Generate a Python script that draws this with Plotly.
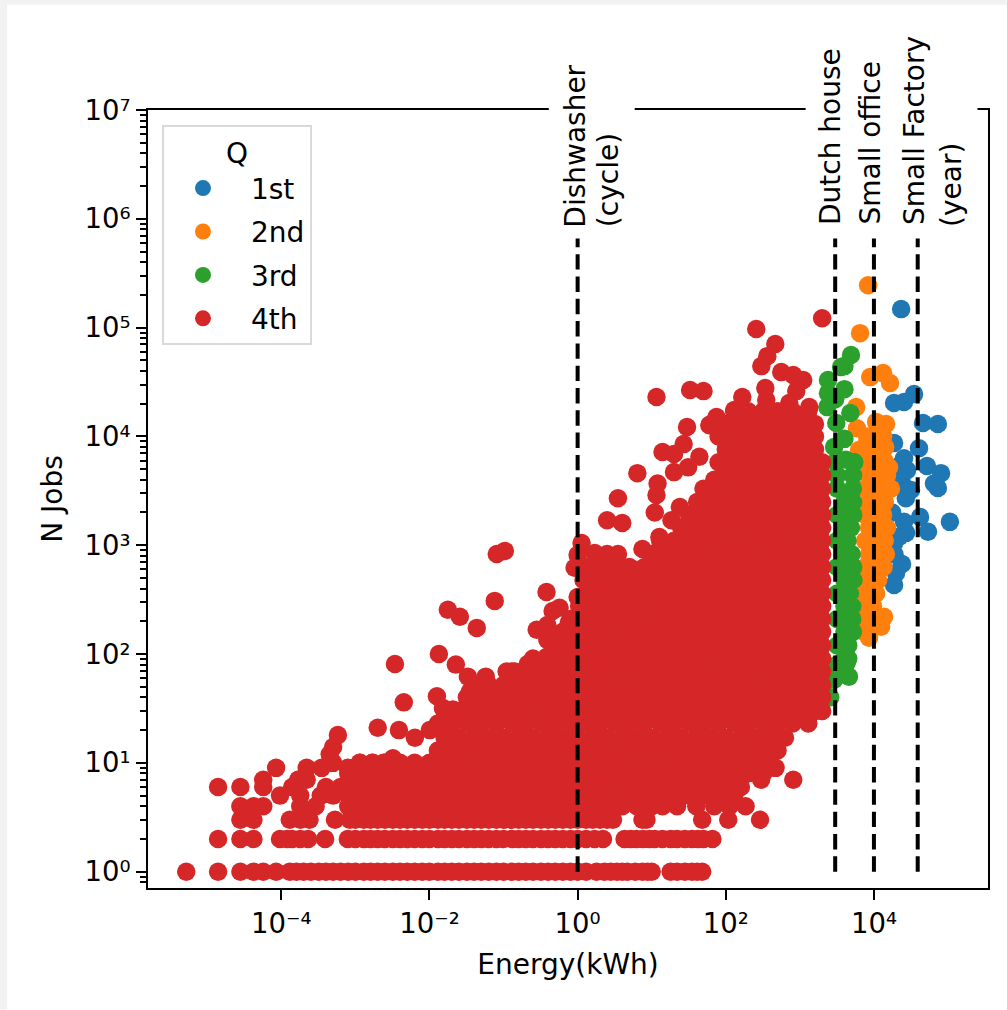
import plotly.graph_objects as go

# Values. The 4th-quartile cloud is saturated: single points
# cannot be read inside it, so its interior rows are estimates that fill the area.
jobs_levels_q4 = [1, 2, 3, 4, 5, 6, 7, 8, 9, 10, 13, 17, 23, 30, 40, 52, 69, 91, 120, 160, 210, 275, 360, 480,
                  630, 830, 1100, 1450, 1900, 2500, 3300, 4400, 5800, 7600, 10000, 13000, 17000]
energy_rows_q4 = [
    [5.2e-6,1.4e-5,2.8e-5,4.2e-5,5.7e-5,8.5e-5,1.3e-4,1.6e-4,2e-4,2.5e-4,3.2e-4,4e-4,5e-4,6.3e-4,8e-4,1e-3,1.3e-3,1.6e-3,2e-3,2.5e-3,3.2e-3,4e-3,5e-3,6.3e-3,8e-3,.01,.013,.016,.02,.025,.032,.04,.05,.063,.08,.1,.13,.16,.2,.25,.32,.4,.5,.63,.8,1,1.3,1.8,2.3,2.8,3.4,4,4.7,6,7.5,8.8,10,18,22,28,35,41,48],
    [1.4e-5,2.8e-5,4.2e-5,9.6e-5,1.2e-4,1.4e-4,1.8e-4,2.3e-4,3.9e-4,7.9e-4,1e-3,1.3e-3,1.6e-3,2e-3,2.5e-3,3.2e-3,4e-3,5e-3,6.3e-3,8e-3,.01,.013,.016,.02,.025,.032,.04,.05,.063,.08,.1,.13,.16,.2,.25,.32,.4,.5,.63,.8,1,1.3,1.7,2.2,4.3,5.2,6.2,7.6,9.3,11,14,18,22,28,35,42,50,66],
    [2.8e-5,4.2e-5,1.3e-4,1.8e-4,2.4e-4,5.3e-4,8.4e-4,1e-3,1.3e-3,1.6e-3,2e-3,2.5e-3,3.2e-3,4e-3,5e-3,6.3e-3,8e-3,.01,.013,.016,.02,.025,.032,.04,.05,.063,.08,.1,.13,.16,.2,.25,.32,.4,.5,.63,.8,1,1.3,1.6,2,2.5,3,7.5,8.5,48,108,290],
    [2.8e-5,4.2e-5,5.7e-5,1.8e-4,2.9e-4,8e-4,1e-3,1.6e-3,2.5e-3,4e-3,6.3e-3,.01,.016,.025,.04,.063,.1,.16,.25,.4,.63,1,1.6,2.5,4,6.3,10,14,22,40,70,112,185],
    [9.6e-5,1.8e-4,5e-4,8e-4,1.3e-3,2e-3,3.2e-3,5e-3,8e-3,.013,.02,.032,.05,.08,.13,.2,.32,.5,.8,1.3,2,3.2,5,8,13,20,32,50,80,130],
    [1.4e-5,2.8e-5,5.7e-5,1.4e-4,4e-4,6.3e-4,1e-3,1.6e-3,2.5e-3,4e-3,6.3e-3,.01,.016,.025,.04,.063,.1,.16,.25,.4,.63,1,1.6,2.5,4,6.3,10,16,25,40,63,100,160],
    [5.7e-5,1.7e-4,2.2e-4,300,815],
    [8e-4,1.3e-3,2e-3,3.2e-3,5e-3,8e-3,.013,.02,.032,.05,.08,.13,.2,.32,.5,.8,1.3,2,3.2,5,8,13,20,32,50,80,130,200,320],
    [8.5e-5,2.2e-4,3.5e-4,470],
    [5e-4,1.15e-3,1.7e-3,2.5e-3,4e-3,6.3e-3,.01,.016,.025,.04,.063,.1,.16,.25,.4,.63,1,1.6,2.5,4,6.3,10,16,25,40,63,100,160,250,400],
    [.013,.02,.032,.05,.08,.13,.2,.32,.5,.8,1.3,2,3.2,5,8,13,20,32,50,80,130,200,320,500],
    [.016,.025,.04,.063,.1,.16,.25,.4,.63,1,1.6,2.5,4,6.3,10,16,25,40,63,100,160,250,400,630],
    [.013,.02,.032,.05,.08,.13,.2,.32,.5,.8,1.3,2,3.2,5,8,13,20,32,50,80,130,200,320,500,800,1300],
    [.016,.025,.04,.063,.1,.16,.25,.4,.63,1,1.6,2.5,4,6.3,10,16,25,40,63,100,160,250,400,630,1000,1600,2000],
    [.032,.05,.08,.13,.2,.32,.5,.8,1.3,2,3.2,5,8,13,20,32,50,80,130,200,320,500,800,1300,2000],
    [.04,.063,.1,.16,.25,.4,.63,1,1.6,2.5,4,6.3,10,16,25,40,63,100,160,250,400,630,1000,1600,2000],
    [.13,.2,.32,.5,.8,1.3,2,3.2,5,8,13,20,32,50,80,130,200,320,500,800,1300,2000],
    [.25,.4,.63,1,1.6,2.5,4,6.3,10,16,25,40,63,100,160,250,400,630,1000,1600,2000],
    [.5,.8,1.3,2,3.2,5,8,13,20,32,50,80,130,200,320,500,800,1300,2000],
    [.63,1,1.6,2.5,4,6.3,10,16,25,40,63,100,160,250,400,630,1000,1600,2000],
    [.8,1.3,2,3.2,5,8,13,20,32,50,80,130,200,320,500,800,1300,2000],
    [1.05,1.6,2.5,4,6.3,10,16,25,40,63,100,160,250,400,630,1000,1600,2000],
    [1.3,2,3.2,5,8,13,20,32,50,80,130,200,320,500,800,1300,2000],
    [1.2,1.6,2.5,4,6.3,10,16,25,40,63,100,160,250,400,630,1000,1600,2000],
    [1.3,2,3.2,5,8,13,20,32,50,80,130,200,320,500,800,1300,2000],
    [2.5,10,16,25,40,63,100,160,250,400,630,1000,1600,2000],
    [13,20,32,50,80,130,200,320,500,800,1300,2000],
    [25,40,63,100,160,250,400,630,1000,1600,2000],
    [32,50,80,130,200,320,500,800,1300,2000],
    [63,100,160,250,400,630,1000,1600,2000],
    [50,80,130,200,320,500,800,1300,2000],
    [100,160,250,400,630,1000,1600,2000],
    [80,130,200,320,500,800,1300,2000],
    [100,160,250,400,630,1000,1600],
    [80,130,200,320,500,800,1300,1600],
    [63,100,160,250,400,630,1000,1600],
    [130,200,320,500,800,1300],
]

energy_q4_loose = [2000,258,466,364,302,561,815,1110,894,342,167,11.6,33,50,130,75,60,30,27,14,20,44,31,20,6.4,12,11.6,70,3.5,2.5,4,11,24,41,
                   7.5,3.5,2.5,1.7,1.13,1,.91,1.9,4.3,6.2,12.7,18.5,1340,720,352,.38,1,1.36,.46,.57,.28,.41,.39,.76,.081,.104,.076,.0177,.0257,.0435,
                   .0134,.00342,.0227,.033,.0575,.035,.0045,.0126,.0152,.0207,.11,.142,.212,.38,.39,.57,.002,.00387,.00635,.0101,.00321,
                   5.8e-4,5e-4,4.5e-4,1.15e-3,1.7e-3,2.4e-3,1.7e-4,3.4e-4,7.9e-4,810,800,690]
jobs_q4_loose = [122000,97000,70600,54700,44300,39000,36600,33000,26100,27800,23000,23000,26700,26100,17500,15100,12700,12200,8500,7200,6900,6500,5200,4700,4600,3700,2900,4000,2700,1700,1600,2000,2250,2500,
                 925,830,780,850,1050,815,620,570,570,590,1190,1700,18600,20300,21600,372,335,350,249,266,167,144,185,194,830,887,308,255,220,174,
                 100,81,80,62,62,45,36,41,32,31,69,69,81,94,135,127,21,20,17,20,11,
                 18,14,12,10,10,10,7,5,9,1350,1000,1100]

energy_q3 = [4900,4000,3600,2400,4000,2400,4800,2350,4000,3100,2900,5400,5200,4200,
             3200,5200,3000,5400,3200,5200,4000,5250,3200,5250,4000,4900,3200,4400,4000,5000,3200,5250,4000,5300,3200,4750,4000,5100,3200,5100,4000,5200,3200,4500,4000,4500,
             4600,3200,4300,2900,2570,3000]
jobs_q3 = [56000,44300,43400,33000,27200,25000,16400,18600,9500,13300,8000,5800,4400,6100,
           4400,4400,5800,5800,3300,3300,2500,2500,1900,1900,1450,1450,1100,1100,830,830,630,630,480,480,360,360,275,275,210,210,160,160,120,120,91,91,
           62,80,83,58,40,22000]

energy_q2 = [8350,6500,8900,13300,16500,5750,5900,10700,14600,8100,14200,7800,6300,10700,13300,11700,10000,13800,8600,
             7600,10000,8600,11700,16000,8600,13300,15000,7600,10000,13300,17000,8600,11700,14000,7600,10000,13300,8600,11700,15000,
             7600,10000,14000,8600,12000,14500,7600,10000,13500,8600,11400,7600,9700,10700,8000,9700,7600,9000,7400,8600,13700,12500,8600]
jobs_q2 = [245000,89000,35100,38200,31000,18600,11900,13600,13000,10000,8000,8350,7500,10000,10000,8000,6600,6000,6000,
           5800,5800,5200,5200,5200,4400,4400,4400,3300,3300,3300,3300,2500,2500,2500,1900,1900,1900,1450,1450,1450,
           1100,1100,1100,830,830,830,630,630,630,480,480,360,360,360,275,275,210,210,160,160,220,178,141]

energy_q1 = [23300,34800,25500,18700,46000,73000,40600,18700,25500,52000,80500,64700,73000,31700,24000,28000,42000,106000,53700,25500,27200,18700,24000,19900,18700,17600,
             23000,20000,27000,22000,19000]
jobs_q1 = [148000,24500,20700,20300,13300,13000,7800,8700,6300,5350,4600,3700,3360,3220,3700,4900,1820,1640,1330,1640,1300,1050,673,557,432,2000,
           5500,4400,2700,1200,820]

reference_energy = [1, 3000, 10000, 39000]
reference_top_jobs = 660000
reference_labels = ["Dishwasher", "(cycle)", "Dutch house", "Small office", "Small Factory", "(year)"]

quartile_names = ["\u00a01st", "\u00a02nd", "\u00a03rd", "\u00a04th"]
quartile_colors = ["#1f77b4", "#ff7f0e", "#2ca02c", "#d62728"]

x_tick_values = [1e-4, 1e-2, 1, 1e2, 1e4]
x_tick_labels = ["10\u207b\u2074", "10\u207b\u00b2", "10\u2070", "10\u00b2", "10\u2074"]
y_tick_values = [1, 10, 100, 1e3, 1e4, 1e5, 1e6, 1e7]
y_tick_labels = ["10\u2070", "10\u00b9", "10\u00b2", "10\u00b3", "10\u2074", "10\u2075", "10\u2076", "10\u2077"]
y_minor_values = [m * 10.0 ** e for e in range(-1, 7) for m in range(2, 10) if m * 10.0 ** e > 0.7 or m == 7]

energy_q4, jobs_q4 = [], []
for level, row in zip(jobs_levels_q4, energy_rows_q4):
    energy_q4 += row
    jobs_q4 += [level] * len(row)
energy_q4 += energy_q4_loose
jobs_q4 += jobs_q4_loose

FONT = "DejaVu Sans"
FS = 28
L, R, T, B = 148, 988.5, 110, 888.5
W, H = 1007, 1010
def px(x): return (x - L) / (R - L)
def py(y): return (B - y) / (B - T)

fig = go.Figure()
series = [(energy_q1, jobs_q1), (energy_q2, jobs_q2), (energy_q3, jobs_q3), (energy_q4, jobs_q4)]
for name, color, (ex, jy) in zip(quartile_names, quartile_colors, series):
    fig.add_trace(go.Scatter(x=ex, y=jy, mode="markers", name=name, legendgroup=name,
                             marker=dict(color=color, size=18.5, line=dict(width=0))))
for e in reference_energy:
    fig.add_trace(go.Scatter(x=[e, e], y=[1, reference_top_jobs], mode="lines", showlegend=False, hoverinfo="skip",
                             line=dict(color="black", width=4, dash="15.4px,6.9px")))

label_pos = [(576, 229.5), (609, 229.5), (831, 227), (871, 227), (915, 227), (952, 229.5)]
annotations = [dict(text=t, xref="paper", yref="paper", x=px(a), y=py(b), xanchor="center", yanchor="bottom",
                    textangle=-90, showarrow=False, font=dict(family=FONT, size=FS, color="black"))
               for t, (a, b) in zip(reference_labels, label_pos)]

def rect(x0, x1, y0, y1, c):
    return dict(type="rect", xref="paper", yref="paper", x0=px(x0), x1=px(x1), y0=py(y0), y1=py(y1),
                fillcolor=c, line=dict(width=0), layer="above")
shapes = [rect(549, 635, 100, 120, "white"), rect(806, 978, 100, 120, "white"),
          rect(0, W, 0, 4.7, "#f2f2f2"), rect(0, 7, 0, H, "#f2f2f2")]

axis_common = dict(type="log", showgrid=False, zeroline=False, showline=True, mirror=True, linecolor="black", linewidth=2,
                   ticks="outside", ticklen=10, tickwidth=2, tickcolor="black", tickmode="array",
                   tickfont=dict(family=FONT, size=FS - 0.5, color="black"))
fig.update_layout(
    width=W, height=H, margin=dict(l=L, r=W - R, t=T, b=H - B, autoexpand=False),
    paper_bgcolor="white", plot_bgcolor="white", font=dict(family=FONT, size=FS, color="black"),
    xaxis=dict(axis_common, range=[-5.8, 5.54], tickvals=x_tick_values, ticktext=x_tick_labels,
               title=dict(text="Energy(kWh)", standoff=16, font=dict(family=FONT, size=FS))),
    yaxis=dict(axis_common, range=[-0.15, 7], tickvals=y_tick_values, ticktext=y_tick_labels,
               minor=dict(ticks="outside", ticklen=6, tickwidth=2, tickcolor="black", tickmode="array", tickvals=y_minor_values),
               title=dict(text="N Jobs", standoff=14, font=dict(family=FONT, size=FS))),
    legend=dict(x=px(162), y=py(125), xanchor="left", yanchor="top", bgcolor="white", bordercolor="#d9d9d9", borderwidth=2,
                title=dict(text="Q", side="top center", font=dict(family=FONT, size=FS)), font=dict(family=FONT, size=FS),
                tracegroupgap=4, itemwidth=68, itemsizing="trace", entrywidth=64),
    annotations=annotations, shapes=shapes, showlegend=True,
)
fig.write_html("out.html", config={"displayModeBar": False}, post_script="document.body.style.margin='0';")
